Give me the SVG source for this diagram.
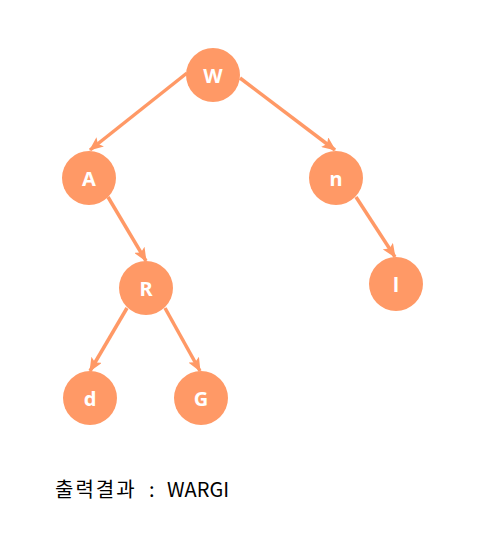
<svg xmlns="http://www.w3.org/2000/svg" width="478" height="552" viewBox="0 0 478 552">
<style>
.node circle{fill:#FF9966;}
.node text{fill:#fff;font-family:"Noto Sans","Noto Sans CJK KR",sans-serif;font-weight:bold;font-size:20px;text-anchor:middle;dominant-baseline:central;}
.edge{stroke:#FF9966;stroke-width:3.5;fill:none;marker-end:url(#arr);}
.caption{font-family:"Noto Sans CJK KR","Noto Sans",sans-serif;font-size:20px;fill:#000;}
</style>
<defs>
<marker id="arr" markerUnits="userSpaceOnUse" markerWidth="14" markerHeight="12" refX="13" refY="6" orient="auto">
<path d="M0,0 L14,6 L0,12 L3,6 Z" fill="#FF9966"/>
</marker>
</defs>
<g id="connectors">
<line class="edge" x1="187" y1="73" x2="90" y2="150"/>
<line class="edge" x1="240" y1="78" x2="335" y2="150"/>
<line class="edge" x1="108" y1="197" x2="146" y2="261"/>
<line class="edge" x1="356" y1="197" x2="395" y2="257"/>
<line class="edge" x1="127" y1="308" x2="90" y2="371"/>
<line class="edge" x1="165" y1="308" x2="200" y2="371"/>
</g>
<g id="node-W" class="node"><circle cx="213" cy="75" r="27"/><text x="213" y="75">W</text></g>
<g id="node-A" class="node"><circle cx="89" cy="178" r="27"/><text x="89" y="178">A</text></g>
<g id="node-n" class="node"><circle cx="336" cy="178" r="27"/><text x="336" y="178">n</text></g>
<g id="node-R" class="node"><circle cx="146" cy="288" r="27"/><text x="146" y="288">R</text></g>
<g id="node-l" class="node"><circle cx="396" cy="284" r="27"/><text x="396" y="284">l</text></g>
<g id="node-d" class="node"><circle cx="90" cy="398" r="27"/><text x="90" y="398">d</text></g>
<g id="node-G" class="node"><circle cx="201" cy="398" r="27"/><text x="201" y="398">G</text></g>
<text class="caption" y="497"><tspan x="55" letter-spacing="2">출력결과</tspan><tspan x="149">:</tspan><tspan x="167">WARGI</tspan></text>
</svg>
